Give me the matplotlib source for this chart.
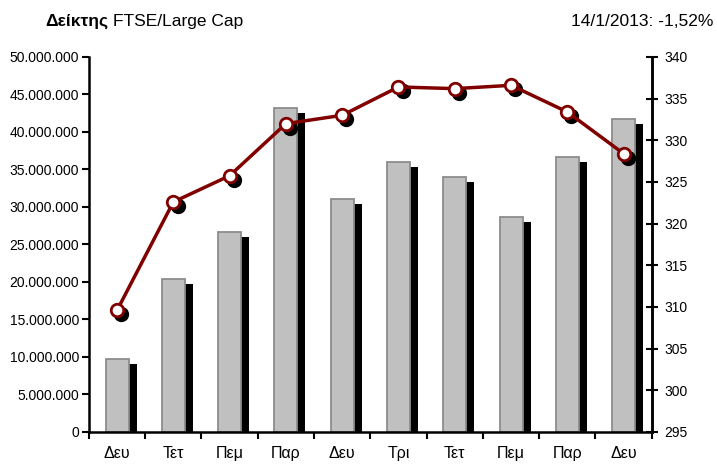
import matplotlib
matplotlib.use("Agg")
import matplotlib.pyplot as plt
import matplotlib.patheffects as pe
import matplotlib.transforms as mtransforms
from matplotlib.ticker import FuncFormatter, MultipleLocator, FixedLocator

plt.rcParams['font.family'] = ['Liberation Sans', 'DejaVu Sans']

days = ['Δευ', 'Τετ', 'Πεμ', 'Παρ', 'Δευ', 'Τρι', 'Τετ', 'Πεμ', 'Παρ', 'Δευ']
volume = [9.7e6, 20.4e6, 26.7e6, 43.2e6, 31.0e6, 36.0e6, 34.0e6, 28.6e6, 36.6e6, 41.7e6]
index_vals = [309.6, 322.6, 325.75, 332.0, 333.0, 336.4, 336.2, 336.6, 333.4, 328.4]

dark_red = '#800000'

fig = plt.figure(figsize=(7.17, 4.67), dpi=100)
ax = fig.add_axes([0.124, 0.075, 0.785, 0.803])
ax2 = ax.twinx()

x = list(range(len(days)))

# bars with a hard black shadow down-right
bar_shadow = [pe.SimplePatchShadow(offset=(5.8, -3.6), shadow_rgbFace='black', alpha=1.0), pe.Normal()]
bars = ax.bar(x, volume, width=0.41, color='#c0c0c0', edgecolor='#8c8c8c', linewidth=1.3)
for b in bars:
    b.set_path_effects(bar_shadow)

ax.set_xlim(-0.5, len(days) - 0.5)
ax.set_ylim(0, 50e6)
ax.yaxis.set_major_locator(MultipleLocator(5e6))
ax.yaxis.set_major_formatter(FuncFormatter(lambda v, p: '{:,}'.format(int(v)).replace(',', '.')))

# category labels, ticks on the boundaries
ax.set_xticks(x)
ax.set_xticklabels(days)
ax.xaxis.set_minor_locator(FixedLocator([i - 0.5 for i in range(len(days) + 1)]))
ax.tick_params(axis='x', which='major', length=0, pad=10, labelsize=11.5)
ax.tick_params(axis='x', which='minor', length=5, width=1.5, direction='out')
ax.tick_params(axis='y', length=5, width=1.5, direction='out', labelsize=10, pad=2)

# index line on the right axis
shadow_tr = ax2.transData + mtransforms.ScaledTranslation(3 / 72, -3 / 72, fig.dpi_scale_trans)
ax2.plot(x, index_vals, linestyle='none', marker='o', markersize=10, color='black',
         transform=shadow_tr, zorder=2)
ax2.plot(x, index_vals, color=dark_red, linewidth=2.5, marker='o', markersize=9,
         markerfacecolor='white', markeredgecolor=dark_red, markeredgewidth=2, zorder=3)
ax2.set_ylim(295, 340)
ax2.yaxis.set_major_locator(MultipleLocator(5))
ax2.tick_params(axis='y', length=8, width=1.5, direction='inout', labelsize=10, pad=5)

for a in (ax, ax2):
    a.spines['top'].set_visible(False)
    for s in ('left', 'right', 'bottom'):
        a.spines[s].set_linewidth(1.8)
ax2.spines['left'].set_visible(False)
ax2.spines['bottom'].set_visible(False)

# title: bold word followed directly by the rest
t1 = fig.text(0.063, 0.945, 'Δείκτης', fontsize=12.5, fontweight='bold', ha='left', va='baseline')
renderer = fig.canvas.get_renderer()
bb = t1.get_window_extent(renderer).transformed(fig.transFigure.inverted())
fig.text(bb.x1 + 0.006, 0.945, 'FTSE/Large Cap', fontsize=12.5, ha='left', va='baseline')
fig.text(0.995, 0.945, '14/1/2013: -1,52%', fontsize=12.5, ha='right', va='baseline')

fig.savefig('out.png', dpi=100)
